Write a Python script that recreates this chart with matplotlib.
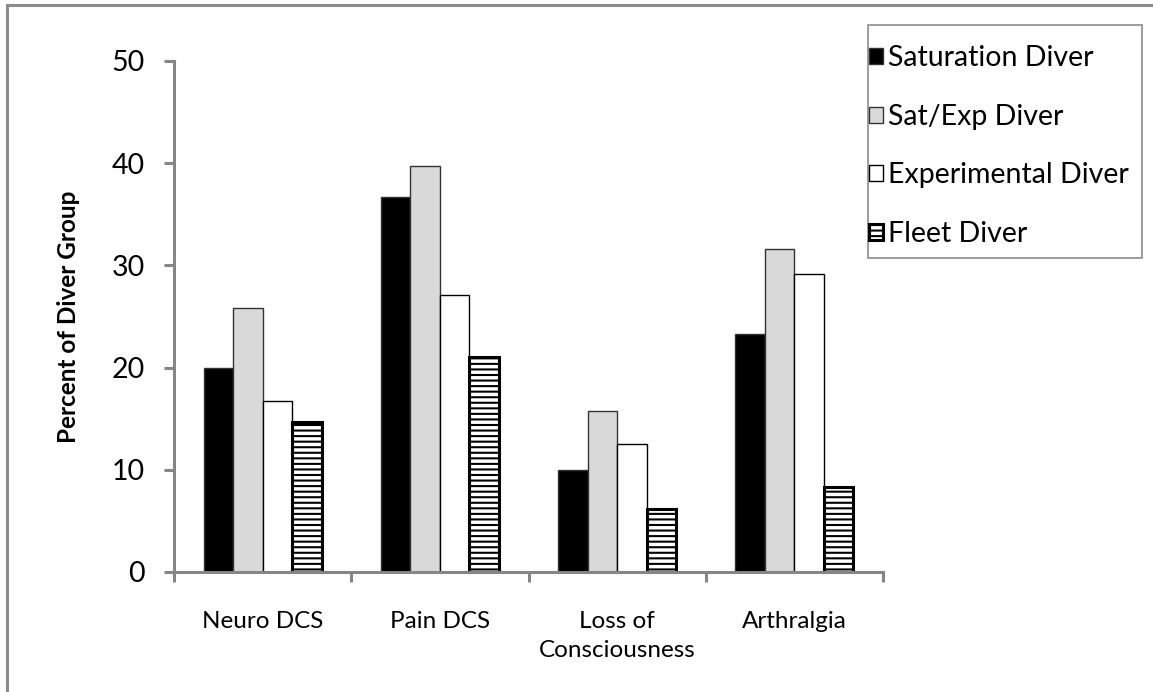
import matplotlib
matplotlib.use("Agg")
import matplotlib.pyplot as plt
import numpy as np
from matplotlib.patches import Rectangle

categories = ["Neuro DCS", "Pain DCS", "Loss of\nConsciousness", "Arthralgia"]
series_names = ["Saturation Diver", "Sat/Exp Diver", "Experimental Diver", "Fleet Diver"]
saturation = [20.0, 36.7, 10.0, 23.3]
sat_exp = [25.8, 39.7, 15.8, 31.6]
experimental = [16.7, 27.1, 12.5, 29.2]
fleet = [14.7, 21.0, 6.2, 8.3]
yticks = [0, 10, 20, 30, 40, 50]

plt.rcParams['font.family'] = ['Lato', 'DejaVu Sans']
plt.rcParams['hatch.linewidth'] = 1.5

W, H = 1153, 692
fig = plt.figure(figsize=(W / 100, H / 100), dpi=100)
fig.patch.set_facecolor('white')
# outer border (top and left visible)
fig.add_artist(Rectangle((7 / W, -0.1), 1.2, 1 - 5 / H + 0.1, transform=fig.transFigure,
                         fill=False, edgecolor='#8c8c8c', linewidth=2.2))

ax = fig.add_axes([174 / W, 1 - 572 / H, (883 - 174) / W, (572 - 61) / H])

grey = '#868686'
styles = [
    dict(facecolor='black', edgecolor='#333333', linewidth=1.0),
    dict(facecolor='#d9d9d9', edgecolor='#333333', linewidth=1.0),
    dict(facecolor='white', edgecolor='black', linewidth=1.0),
    dict(facecolor='white', edgecolor='black', linewidth=2.2, hatch='---'),
]
data = [saturation, sat_exp, experimental, fleet]
w = 1 / 6
x = np.arange(len(categories))
handles = []
for j, (vals, st, name) in enumerate(zip(data, styles, series_names)):
    b = ax.bar(x + (j - 1.5) * w, vals, width=w, label=name, **st)
    handles.append(b)

ax.set_xlim(-0.5, len(categories) - 0.5)
ax.set_ylim(0, 50)
ax.set_yticks(yticks)
ax.set_xticks(x)
ax.set_xticklabels(categories, fontsize=17.5, linespacing=1.45)
ax.set_xticks(np.arange(len(categories) + 1) - 0.5, minor=True)
ax.tick_params(axis='x', which='major', length=0, pad=28)
ax.tick_params(axis='x', which='minor', length=7, width=2.2, color=grey, direction='out')
ax.tick_params(axis='y', length=7, width=2.2, color=grey, direction='out', labelsize=20.5, pad=14)

for s in ['top', 'right']:
    ax.spines[s].set_visible(False)
for s in ['left', 'bottom']:
    ax.spines[s].set_color(grey)
    ax.spines[s].set_linewidth(2.2)

ax.set_ylabel("Percent of Diver Group", fontsize=17.5, fontweight='bold')
ax.yaxis.set_label_coords(-0.132, 0.5)

# legend frame
fig.add_artist(Rectangle((868 / W, 1 - 258 / H), (1142 - 868) / W, (258 - 25) / H,
                         transform=fig.transFigure, facecolor='white',
                         edgecolor='#8c8c8c', linewidth=1.2, zorder=4))
leg = fig.legend(handles=handles, labels=series_names, loc='upper left',
                 bbox_to_anchor=(869 / W, 1 - 45 / H), borderaxespad=0,
                 fontsize=20.5, handlelength=0.48, handleheight=0.48, handletextpad=0.2,
                 labelspacing=1.15, borderpad=0, frameon=False)
leg.set_zorder(5)

fig.savefig("out.png", dpi=100)
